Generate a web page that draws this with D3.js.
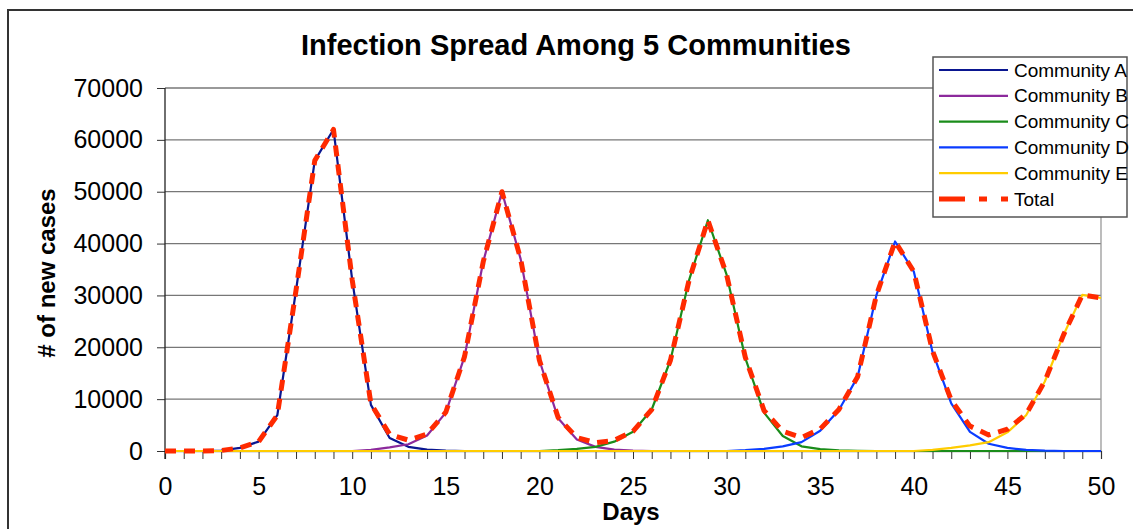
<!DOCTYPE html>
<html lang="en">
<head>
<meta charset="UTF-8">
<title>Infection Spread</title>
<script src="https://cdnjs.cloudflare.com/ajax/libs/d3/7.8.5/d3.min.js"></script>
<style>
  body { margin: 0; background: #fff; }
  svg { font-family: "Liberation Sans", Arial, sans-serif; }
</style>
</head>
<body>
<script type="text/javascript">

var days = d3.range(0, 51);

var communityA = [0, 0, 0, 100, 600, 1800, 6900, 31000, 56000, 62000,
  33000, 8900, 2500, 800, 250, 80, 0, 0, 0, 0,
  0, 0, 0, 0, 0, 0, 0, 0, 0, 0,
  0, 0, 0, 0, 0, 0, 0, 0, 0, 0,
  0, 0, 0, 0, 0, 0, 0, 0, 0, 0, 0];
var communityB = [0, 0, 0, 0, 0, 0, 0, 0, 0, 0,
  0, 200, 700, 1300, 3000, 7400, 18200, 36500, 50000, 37000,
  17500, 6300, 2200, 800, 250, 80, 0, 0, 0, 0,
  0, 0, 0, 0, 0, 0, 0, 0, 0, 0,
  0, 0, 0, 0, 0, 0, 0, 0, 0, 0, 0];
var communityC = [0, 0, 0, 0, 0, 0, 0, 0, 0, 0,
  0, 0, 0, 0, 0, 0, 0, 0, 0, 0,
  0, 150, 400, 800, 1800, 3700, 8000, 17500, 33000, 44500,
  34000, 17900, 7400, 2900, 900, 350, 120, 40, 0, 0,
  0, 0, 0, 0, 0, 0, 0, 0, 0, 0, 0];
var communityD = [0, 0, 0, 0, 0, 0, 0, 0, 0, 0,
  0, 0, 0, 0, 0, 0, 0, 0, 0, 0,
  0, 0, 0, 0, 0, 0, 0, 0, 0, 0,
  0, 150, 400, 900, 1700, 3900, 7900, 14300, 30000, 40400,
  34600, 19100, 9200, 3700, 1400, 600, 200, 60, 0, 0, 0];
var communityE = [0, 0, 0, 0, 0, 0, 0, 0, 0, 0,
  0, 0, 0, 0, 0, 0, 0, 0, 0, 0,
  0, 0, 0, 0, 0, 0, 0, 0, 0, 0,
  0, 0, 0, 0, 0, 0, 0, 0, 0, 0,
  0, 200, 600, 1100, 1700, 3600, 6900, 13400, 22400, 30100, 29500];
var total = [0, 0, 0, 100, 600, 1800, 6900, 31000, 56000, 62000,
  33000, 9100, 3200, 2100, 3250, 7480, 18200, 36500, 50000, 37000,
  17500, 6450, 2600, 1600, 2050, 3780, 8000, 17500, 33000, 44500,
  34000, 18050, 7800, 3800, 2600, 4250, 8020, 14340, 30000, 40400,
  34600, 19300, 9800, 4800, 3100, 4200, 7100, 13460, 22400, 30100, 29500];

var seriesNames = ["Community A", "Community B", "Community C", "Community D", "Community E", "Total"];
var seriesValues = [communityA, communityB, communityC, communityD, communityE, total];
var seriesColors = ["#0a1690", "#8c2a9c", "#1a8c1a", "#0a3cff", "#ffcc00", "#ff2a00"];

var yTicks = [0, 10000, 20000, 30000, 40000, 50000, 60000, 70000];

var width = 1133, height = 529;

var svg = d3.select("body").append("svg")
  .attr("width", width)
  .attr("height", height);

// outer chart frame
svg.append("rect")
  .attr("x", 8).attr("y", 10)
  .attr("width", 1140).attr("height", 540)
  .style("fill", "none")
  .style("stroke", "#333")
  .style("stroke-width", 2);

var x = d3.scaleLinear().domain([0, 50]).range([165, 1101]);
var y = d3.scaleLinear().domain([0, 70000]).range([451, 88]);

// gridlines
svg.selectAll(".grid")
  .data(yTicks.slice(1))
  .enter().append("line")
  .attr("x1", x(0)).attr("x2", x(50))
  .attr("y1", function(d) { return y(d); })
  .attr("y2", function(d) { return y(d); })
  .style("stroke", "#777")
  .style("stroke-width", 1.3);

svg.append("line")
  .attr("x1", x(50)).attr("x2", x(50))
  .attr("y1", y(70000)).attr("y2", y(0))
  .style("stroke", "#999")
  .style("stroke-width", 1.3);

// axes
var xAxis = d3.axisBottom(x)
  .tickValues(days)
  .tickSize(8)
  .tickPadding(18)
  .tickFormat(function(d) { return d % 5 === 0 ? d : ""; });

var gx = svg.append("g")
  .attr("transform", "translate(0," + y(0) + ")")
  .call(xAxis);
gx.select(".domain").style("stroke", "#888").style("stroke-width", 1.3);
gx.selectAll(".tick line").style("stroke", "#333");
gx.selectAll("text").style("font-size", "25px").style("fill", "#000");

var yAxis = d3.axisLeft(y)
  .tickValues(yTicks)
  .tickSize(8)
  .tickPadding(14)
  .tickFormat(d3.format("d"));

var gy = svg.append("g")
  .attr("transform", "translate(" + x(0) + ",0)")
  .call(yAxis);
gy.select(".domain").remove();
gy.append("line")
  .attr("x1", 0).attr("x2", 0)
  .attr("y1", y(70000)).attr("y2", y(0) + 8)
  .style("stroke", "#222").style("stroke-width", 1.3);
gy.selectAll(".tick line").style("stroke", "#333");
gy.selectAll("text").style("font-size", "25px").style("fill", "#000");

// series
var line = d3.line()
  .x(function(d, i) { return x(days[i]); })
  .y(function(d) { return y(d); });

seriesValues.forEach(function(vals, k) {
  var isTotal = seriesNames[k] === "Total";
  svg.append("path")
    .datum(vals)
    .attr("d", line)
    .style("fill", "none")
    .style("stroke", seriesColors[k])
    .style("stroke-width", isTotal ? 5 : 2.2)
    .style("stroke-dasharray", isTotal ? "11,8" : null)
    .style("stroke-linejoin", "round");
});

// titles
svg.append("text")
  .attr("x", 576).attr("y", 55)
  .attr("text-anchor", "middle")
  .style("font-size", "29px")
  .style("font-weight", "bold")
  .text("Infection Spread Among 5 Communities");

svg.append("text")
  .attr("x", 631).attr("y", 520)
  .attr("text-anchor", "middle")
  .style("font-size", "24px")
  .style("font-weight", "bold")
  .text("Days");

svg.append("text")
  .attr("transform", "translate(55,273) rotate(-90)")
  .attr("text-anchor", "middle")
  .style("font-size", "24px")
  .style("font-weight", "bold")
  .text("# of new cases");

// legend
var legend = svg.append("g");
legend.append("rect")
  .attr("x", 933).attr("y", 57)
  .attr("width", 194).attr("height", 160)
  .style("fill", "#fff")
  .style("stroke", "#555")
  .style("stroke-width", 1.5);

var rows = legend.selectAll(".row")
  .data(seriesNames)
  .enter().append("g")
  .attr("transform", function(d, i) { return "translate(0," + (70 + i * 25.8) + ")"; });

rows.append("line")
  .attr("x1", 939).attr("x2", 1008)
  .style("stroke", function(d, i) { return seriesColors[i]; })
  .style("stroke-width", function(d) { return d === "Total" ? 5 : 2.2; })
  .style("stroke-dasharray", function(d) { return d === "Total" ? "26,14,8,14" : null; });

rows.append("text")
  .attr("x", 1014)
  .attr("dy", "0.35em")
  .style("font-size", "19px")
  .text(function(d) { return d; });

</script>
</body>
</html>
